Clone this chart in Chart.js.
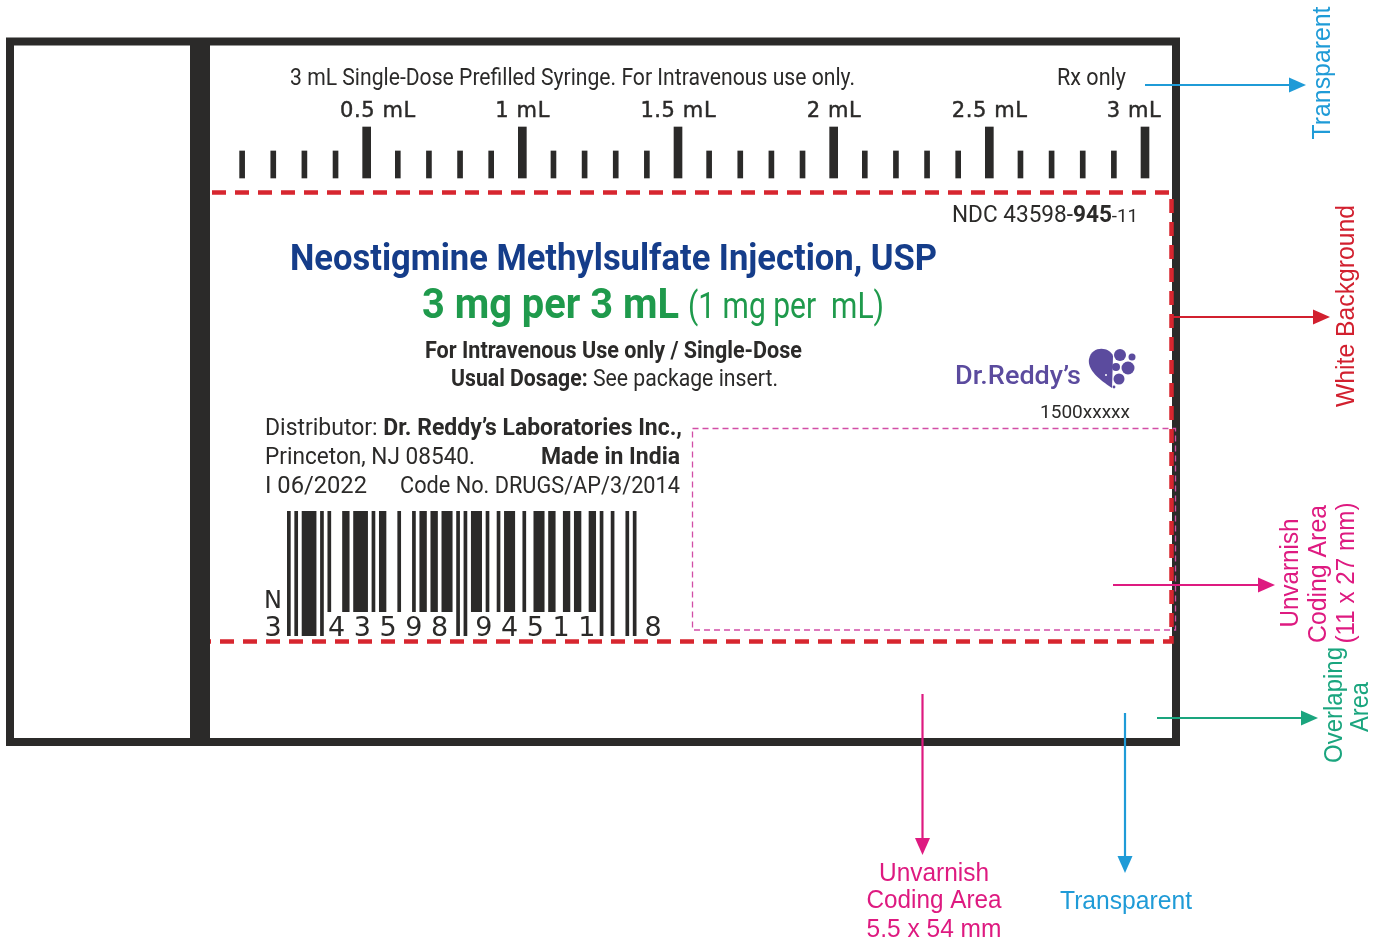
<!DOCTYPE html>
<html><head><meta charset="utf-8">
<script src="https://cdn.jsdelivr.net/npm/chart.js@4/dist/chart.umd.min.js"></script>
<style>html,body{margin:0;padding:0;background:#fff;}#wrap{width:1385px;height:943px;}</style>
</head><body><div id="wrap"><canvas id="c" width="1385" height="943"></canvas></div>
<script>
// ---- data ----
const minorVolumes = [0.1,0.2,0.3,0.4,0.6,0.7,0.8,0.9,1.1,1.2,1.3,1.4,1.6,1.7,1.8,1.9,2.1,2.2,2.3,2.4,2.6,2.7,2.8,2.9];
const majorVolumes = [0.5,1.0,1.5,2.0,2.5,3.0];
const tickLabels = ['0.5 mL','1 mL','1.5 mL','2 mL','2.5 mL','3 mL'];
const minorLength = 0.53;
const majorLength = 1;
const upcDigits = [3,4,3,5,9,8,9,4,5,1,1,8];

const INK = '#2b2a29';
const L_CODES = ['0001101','0011001','0010011','0111101','0100011','0110001','0101111','0111011','0110111','0001011'];
function upcModules(d){
  let s='101';
  for(let i=0;i<6;i++) s+=L_CODES[d[i]];
  s+='01010';
  for(let i=6;i<12;i++) s+=L_CODES[d[i]].split('').map(c=>c==='1'?'0':'1').join('');
  s+='101';
  return s;
}

function fitRuns(ctx, runs, x, y, w, color){
  ctx.save(); ctx.textBaseline='alphabetic'; ctx.textAlign='left';
  let total=0; const ws=[];
  runs.forEach(r=>{ctx.font=r[1]; const m=ctx.measureText(r[0]).width; ws.push(m); total+=m;});
  const s = w/total;
  ctx.translate(x,y); ctx.scale(s,1);
  let cx=0;
  runs.forEach((r,i)=>{ctx.font=r[1]; ctx.fillStyle=r[2]||color; ctx.fillText(r[0],cx,0); cx+=ws[i];});
  ctx.restore();
}
function vtext(ctx, s, cx, cy, font, color, len){
  ctx.save(); ctx.translate(cx,cy); ctx.rotate(-Math.PI/2);
  ctx.font=font; ctx.fillStyle=color; ctx.textAlign='center'; ctx.textBaseline='middle';
  if(len){ const m=ctx.measureText(s).width; ctx.scale(len/m,1); }
  ctx.fillText(s,0,0); ctx.restore();
}
function ctext(ctx, s, cx, y, font, color, len){
  ctx.save(); ctx.translate(cx,y);
  ctx.font=font; ctx.fillStyle=color; ctx.textAlign='center'; ctx.textBaseline='alphabetic';
  if(len){ const m=ctx.measureText(s).width; ctx.scale(len/m,1); }
  ctx.fillText(s,0,0); ctx.restore();
}
function arrow(ctx,x1,y1,x2,y2,color){
  const a=Math.atan2(y2-y1,x2-x1), L=17, H=7.5;
  const bx=x2-L*Math.cos(a), by=y2-L*Math.sin(a), px=-Math.sin(a), py=Math.cos(a);
  ctx.save(); ctx.strokeStyle=color; ctx.fillStyle=color; ctx.lineWidth=2.2; ctx.setLineDash([]);
  ctx.beginPath(); ctx.moveTo(x1,y1); ctx.lineTo(bx,by); ctx.stroke();
  ctx.beginPath(); ctx.moveTo(x2,y2); ctx.lineTo(bx+H*px,by+H*py); ctx.lineTo(bx-H*px,by-H*py); ctx.closePath(); ctx.fill();
  ctx.restore();
}

const labelPlugin = {
  id:'labelArt',
  beforeDatasetsDraw(chart){
    const ctx=chart.ctx;
    ctx.save();
    ctx.fillStyle='#fff'; ctx.fillRect(0,0,chart.width,chart.height);
    ctx.strokeStyle=INK; ctx.lineWidth=8; ctx.strokeRect(10,41.5,1166,700.5);
    ctx.fillStyle=INK; ctx.fillRect(190,41,20,702);
    // pink unvarnish box
    ctx.setLineDash([6,4]); ctx.lineWidth=1.3; ctx.strokeStyle='#d24ea6';
    ctx.strokeRect(692.5,428.5,483,201.5);
    // red dashed white background
    ctx.setLineDash([14,9]); ctx.lineWidth=4.5; ctx.strokeStyle='#d7262f';
    ctx.beginPath(); ctx.moveTo(212,192.5); ctx.lineTo(1171.5,192.5); ctx.lineTo(1171.5,641.5); ctx.lineTo(210,641.5); ctx.stroke();
    ctx.restore();
  },
  afterDatasetsDraw(chart){
    const ctx=chart.ctx, xs=chart.scales.x;
    ctx.save();
    const R='Roboto, sans-serif';
    // header
    fitRuns(ctx,[['3 mL Single-Dose Prefilled Syringe. For Intravenous use only.','24px '+R]],290,85,565,INK);
    fitRuns(ctx,[['Rx only','24px '+R]],1057,85,69,INK);
    // graduation labels via the x scale
    ctx.save();
    ctx.font='21px "DejaVu Sans", sans-serif';
    ctx.letterSpacing='0.6px';
    ctx.fillStyle=INK; ctx.strokeStyle=INK; ctx.lineWidth=0.45;
    ctx.textAlign='center'; ctx.textBaseline='alphabetic';
    tickLabels.forEach((t,i)=>{
      let cx=xs.getPixelForValue(majorVolumes[i]);
      const w=ctx.measureText(t).width;
      if(cx+w/2>1161) cx=1161-w/2;
      if(i===0) cx+=11;
      ctx.fillText(t,cx+0.3,117);
      ctx.strokeText(t,cx+0.3,117);
    });
    ctx.restore();
    // NDC
    fitRuns(ctx,[['NDC 43598-','23px '+R],['945','bold 23px '+R],['-11','19px '+R]],952,222,186,INK);
    // title
    fitRuns(ctx,[['Neostigmine Methylsulfate Injection, USP','bold 37px '+R]],290,270,647,'#153d8a');
    fitRuns(ctx,[['3 mg per 3 mL','bold 42px '+R]],422,318,257,'#1f9a4c');
    fitRuns(ctx,[['(1 mg per  mL)','36px '+R]],688,318,196,'#1f9a4c');
    fitRuns(ctx,[['For Intravenous Use only / Single-Dose','bold 23px '+R]],425,358,377,INK);
    fitRuns(ctx,[['Usual Dosage:','bold 23px '+R],[' See package insert.','23px '+R]],451,386,327,INK);
    // Dr. Reddy's logo
    fitRuns(ctx,[["Dr.Reddy\u2019s",'500 25px '+R]],955,384,126,'#5b4b9e');
    ctx.fillStyle='#5b4b9e';
    ctx.beginPath(); ctx.moveTo(1113,356);
    ctx.bezierCurveTo(1110,347,1092,345,1089,359);
    ctx.bezierCurveTo(1087,370,1100,380,1112,388);
    ctx.closePath(); ctx.fill();
    [[1120,355,6],[1132,357,3.5],[1116,367,4],[1128,368,6.5],[1119,379,5.5],[1114,387,1.4]].forEach(c=>{ctx.beginPath(); ctx.arc(c[0],c[1],c[2],0,Math.PI*2); ctx.fill();});
    ctx.fillStyle='#fff'; ctx.beginPath(); ctx.arc(1106,375,1,0,Math.PI*2); ctx.fill();
    fitRuns(ctx,[['1500xxxxx','19px '+R]],1040,418,90,INK);
    // distributor block
    fitRuns(ctx,[['Distributor: ','23px '+R],["Dr. Reddy\u2019s Laboratories Inc.,",'bold 23px '+R]],265,435,417,INK);
    fitRuns(ctx,[['Princeton, NJ 08540.','23px '+R]],265,464,210,INK);
    fitRuns(ctx,[['Made in India','bold 23px '+R]],541,464,139,INK);
    fitRuns(ctx,[['I 06/2022','23px '+R]],265,493,102,INK);
    fitRuns(ctx,[['Code No. DRUGS/AP/3/2014','23px '+R]],400,493,280,INK);
    // barcode
    const mods=upcModules(upcDigits), x0=287, m=(636.5-287)/95, top=511, bot=612, lbot=636;
    const longMod=i=>(i<10)||(i>=45&&i<50)||(i>=85);
    ctx.fillStyle=INK;
    for(let i=0;i<mods.length;i++){
      if(mods[i]!=='1') continue;
      let j=i; while(j+1<mods.length && mods[j+1]==='1' && longMod(j+1)===longMod(i)) j++;
      ctx.fillRect(x0+i*m, top, (j-i+1)*m, (longMod(i)?lbot:bot)-top);
      i=j;
    }
    const DF='27px "DejaVu Sans"';
    ctext(ctx,String(upcDigits[0]),273,636,DF,INK);
    ctext(ctx,'N',273,608,'24px "DejaVu Sans"',INK);
    for(let k=1;k<=5;k++) ctext(ctx,String(upcDigits[k]),x0+(3+7*k+3.5)*m,636,DF,INK);
    for(let k=6;k<=10;k++) ctext(ctx,String(upcDigits[k]),x0+(50+7*(k-6)+3.5)*m,636,DF,INK);
    ctext(ctx,String(upcDigits[11]),653,636,DF,INK);
    // annotations
    const A='25px "Liberation Sans", Arial, sans-serif';
    const BLUE='#1f9bd7', RED='#d2202f', MAG='#de1a80', GRN='#1aa57e';
    arrow(ctx,1145,85,1306,85,BLUE);
    vtext(ctx,'Transparent',1323,73,A,BLUE,133);
    arrow(ctx,1172,317,1330,317,RED);
    vtext(ctx,'White Background',1347,306,A,RED,202);
    arrow(ctx,1113,585,1275,585,MAG);
    vtext(ctx,'Unvarnish',1291,573,A,MAG,109);
    vtext(ctx,'Coding Area',1319,574,A,MAG,138);
    vtext(ctx,'(11 x 27 mm)',1347,573,A,MAG,141);
    arrow(ctx,1157,718,1318,718,GRN);
    vtext(ctx,'Overlaping',1335,705,A,GRN,116);
    vtext(ctx,'Area',1361,707,A,GRN,50);
    arrow(ctx,922.5,694,922.5,855,MAG);
    ctext(ctx,'Unvarnish',934,881,A,MAG,110);
    ctext(ctx,'Coding Area',934,908,A,MAG,135);
    ctext(ctx,'5.5 x 54 mm',934,937,A,MAG,135);
    arrow(ctx,1125,713,1125,873,BLUE);
    ctext(ctx,'Transparent',1126,909,A,BLUE,132);
    ctx.restore();
  }
};

new Chart(document.getElementById('c'), {
  type:'bar',
  data:{ datasets:[
    {label:'minor', data:minorVolumes.map(v=>({x:v,y:minorLength})), backgroundColor:INK, barThickness:5, grouped:false, clip:false},
    {label:'major', data:majorVolumes.map(v=>({x:v,y:majorLength})), backgroundColor:INK, barThickness:8, grouped:false, clip:false}
  ]},
  options:{
    responsive:false, animation:false,
    layout:{padding:{left:211,right:240,top:127,bottom:765}},
    scales:{ x:{type:'linear',min:0,max:3,display:false,offset:false}, y:{min:0,max:1,display:false} },
    plugins:{legend:{display:false},tooltip:{enabled:false}}
  },
  plugins:[labelPlugin]
});
</script></body></html>
